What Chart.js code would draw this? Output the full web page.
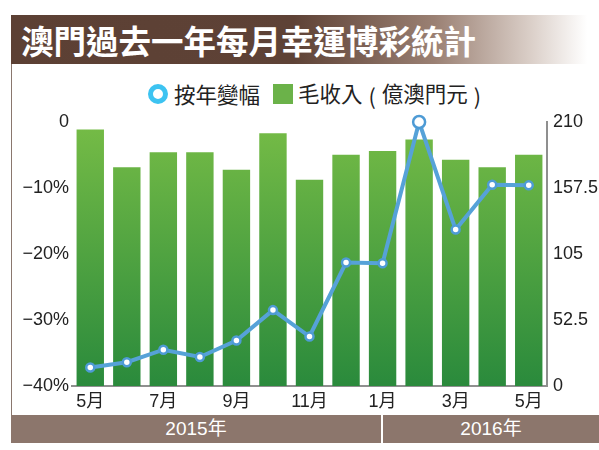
<!DOCTYPE html>
<html lang="zh-Hant">
<head>
<meta charset="utf-8">
<script src="https://cdn.jsdelivr.net/npm/chart.js@4/dist/chart.umd.min.js"></script>
<style>
    body { margin: 0; width: 599px; height: 450px; background: #fff; position: relative; overflow: hidden; font-family: "Liberation Sans", "Noto Sans CJK TC", sans-serif; }
    .frame { position: absolute; left: 11px; top: 15px; width: 588px; height: 400px; border-left: 1px solid #8a776e; border-top: 1px solid #8a7066; box-sizing: border-box; }
    .title { position: absolute; left: 11px; top: 15px; width: 588px; height: 49px;
        background: linear-gradient(to right, #5c4034 0%, #5e4236 48%, #9a8073 72%, #d9cdc6 88%, #ffffff 98%);
        color: #fff; font: bold 32.5px "Noto Sans CJK TC", sans-serif; line-height: 49px; padding-left: 10px; box-sizing: border-box; }
    .legend { position: absolute; top: 78px; left: 148px; height: 26px; font: 21.5px "Noto Sans CJK TC", sans-serif; color: #222; white-space: nowrap; line-height: 26px; }
    .legend span { display: inline-block; vertical-align: middle; }
    .legend .p { margin: 0 6px; }
    .ring { width: 20px; height: 20px; border-radius: 50%; box-sizing: border-box; border: 5px solid #3dc3f1; background: #fff; margin-right: 6px; }
    .square { width: 20px; height: 20px; background: #6bb249; margin-left: 13px; margin-right: 5px; }
    .chart { position: absolute; left: 0; top: 100px; }
    .band { position: absolute; left: 11px; top: 415px; width: 588px; height: 28px; background: #8c766c; color: #fff; font: 19px "Liberation Sans", "Noto Sans CJK TC", sans-serif; line-height: 28px; }
    .band div { position: absolute; top: 0; text-align: center; }
    .band .sep { position: absolute; left: 370px; top: 0; width: 2px; height: 28px; background: #fff; }
</style>
</head>
<body>
<div class="frame"></div>
<div class="title">澳門過去一年每月幸運博彩統計</div>
<div class="legend"><span class="ring"></span><span>按年變幅</span><span class="square"></span><span>毛收入<span class="p">(</span>億澳門元<span class="p">)</span></span></div>
<div class="chart"><canvas id="chart" width="599" height="310"></canvas></div>
<div class="band">
    <div style="left:0;width:370px;">2015年</div>
    <div class="sep"></div>
    <div style="left:372px;width:216px;">2016年</div>
</div>
<script>
// Data
const months = ["5月", "6月", "7月", "8月", "9月", "10月", "11月", "12月", "1月", "2月", "3月", "4月", "5月"];
const yoyChange = [-37.2, -36.4, -34.5, -35.6, -33.1, -28.5, -32.5, -21.3, -21.4, 0, -16.3, -9.5, -9.6];
const grossRevenue = [204, 174, 186, 186, 172, 201, 164, 184, 187, 196, 180, 174, 184];
const leftTicks = [0, -10, -20, -30, -40];
const rightTicks = ["0", "52.5", "105", "157.5", "210"];

const tickFont = { family: "'Liberation Sans', 'Noto Sans CJK TC', sans-serif", size: 18 };
const peakIndex = yoyChange.indexOf(Math.max(...yoyChange));

const barGradient = (context) => {
    const { ctx, chartArea } = context.chart;
    if (!chartArea) return "#4fa040";
    const g = ctx.createLinearGradient(0, chartArea.top, 0, chartArea.bottom);
    g.addColorStop(0, "#76bc46");
    g.addColorStop(1, "#2a8a3c");
    return g;
};

new Chart(document.querySelector("#chart"), {
    data: {
        labels: months,
        datasets: [
            {
                type: "line",
                label: "按年變幅",
                data: yoyChange,
                yAxisID: "y",
                order: 0,
                borderColor: "#56a2d8",
                borderWidth: 4,
                tension: 0,
                pointBackgroundColor: "#ffffff",
                pointBorderColor: "#4e9bd5",
                pointBorderWidth: 2.5,
                pointRadius: (c) => c.dataIndex === peakIndex ? 6 : 4,
                clip: false
            },
            {
                type: "bar",
                label: "毛收入（億澳門元）",
                data: grossRevenue,
                yAxisID: "y1",
                order: 1,
                backgroundColor: barGradient,
                barPercentage: 0.75,
                categoryPercentage: 1
            }
        ]
    },
    options: {
        responsive: false,
        devicePixelRatio: 1,
        animation: false,
        layout: { padding: { top: 22, left: 0, right: 0, bottom: 0 } },
        plugins: { legend: { display: false }, tooltip: { enabled: false } },
        scales: {
            x: {
                offset: true,
                grid: { display: false, drawTicks: false },
                border: { display: true, color: "#8f8f8f", width: 2 },
                ticks: {
                    autoSkip: false,
                    maxRotation: 0,
                    padding: 5,
                    color: "#222",
                    font: tickFont,
                    callback: (v, i) => i % 2 === 0 ? months[i] : ""
                },
                afterFit: (s) => { s.height = 24; }
            },
            y: {
                position: "left",
                min: -40,
                max: 0,
                grid: { display: false, drawTicks: false },
                border: { display: false },
                afterBuildTicks: (s) => { s.ticks = leftTicks.map(v => ({ value: v })); },
                ticks: {
                    padding: 3,
                    color: "#222",
                    font: tickFont,
                    callback: (v) => v === 0 ? "0" : "\u2212" + Math.abs(v) + "%"
                },
                afterFit: (s) => { s.width = 72; }
            },
            y1: {
                position: "right",
                min: 0,
                max: 210,
                grid: { display: false, drawTicks: false },
                border: { display: true, color: "#8f8f8f", width: 2 },
                afterBuildTicks: (s) => { s.ticks = rightTicks.map(v => ({ value: Number(v) })); },
                ticks: {
                    padding: 6,
                    color: "#222",
                    font: tickFont,
                    callback: (v) => rightTicks.find(t => Number(t) === v)
                },
                afterFit: (s) => { s.width = 52; }
            }
        }
    }
});
</script>
</body>
</html>
